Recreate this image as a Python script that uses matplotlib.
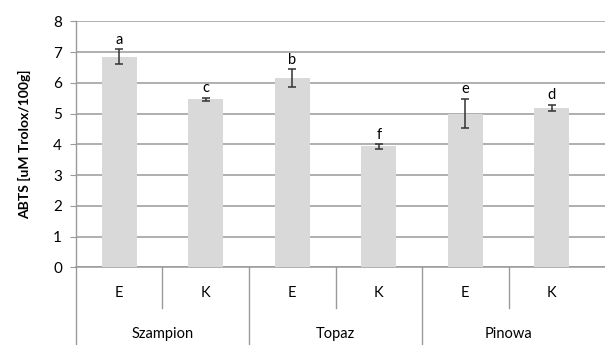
import matplotlib
matplotlib.use("Agg")
import matplotlib.pyplot as plt
import matplotlib.transforms as mtransforms

plt.rcParams['font.family'] = ['Lato', 'DejaVu Sans']

# dane
odmiany = ['Szampion', 'Topaz', 'Pinowa']
warianty = ['E', 'K', 'E', 'K', 'E', 'K']
wartosci = [6.85, 5.47, 6.15, 3.93, 5.00, 5.19]
bledy = [0.24, 0.05, 0.29, 0.08, 0.48, 0.10]
litery = ['a', 'c', 'b', 'f', 'e', 'd']

szary = '#9a9a9a'

fig = plt.figure(figsize=(6.05, 3.45), dpi=100)
ax = fig.add_axes([0.1256, 0.2252, 0.8744, 0.7131])

x = list(range(len(wartosci)))
ax.bar(x, wartosci, width=0.40, color='#d9d9d9', zorder=3)
ax.errorbar(x, wartosci, yerr=bledy, fmt='none', ecolor='#333333',
            elinewidth=1.1, capsize=3.2, capthick=1.1, zorder=4)

for xi, v, e, lit in zip(x, wartosci, bledy, litery):
    ax.text(xi, v + e + 0.08, lit, ha='center', va='bottom', fontsize=10.5)

ax.set_ylim(0, 8)
ax.set_yticks(range(0, 9))
ax.set_xlim(-0.5, 5.615)
ax.set_xticks([])
ax.yaxis.grid(True, color=szary, linewidth=1.1, zorder=0)
ax.set_axisbelow(True)

for s in ['top', 'right']:
    ax.spines[s].set_visible(False)
ax.spines['left'].set_color(szary)
ax.spines['bottom'].set_color(szary)
ax.spines['left'].set_linewidth(1.0)
ax.spines['bottom'].set_linewidth(1.1)
ax.tick_params(axis='y', length=4, color=szary, labelsize=11, pad=6)

ax.set_ylabel('ABTS [uM Trolox/100g]', fontsize=10, fontweight='bold', labelpad=16)

# oś kategorii dwupoziomowa
tr = mtransforms.blended_transform_factory(ax.transData, ax.transAxes)
dol = -0.318
for xi, w in zip(x, warianty):
    ax.text(xi, -0.105, w, transform=tr, ha='center', va='center', fontsize=10.5)
for i, nazwa in enumerate(odmiany):
    ax.text(2 * i + 0.5, -0.272, nazwa, transform=tr, ha='center', va='center', fontsize=10.5)

ax.plot([-0.5, -0.5], [0, dol], transform=tr, color=szary, lw=1.0, clip_on=False)
for xs in [0.5, 2.5, 4.5]:
    ax.plot([xs, xs], [0, -0.165], transform=tr, color=szary, lw=1.0, clip_on=False)
for xs in [1.5, 3.5]:
    ax.plot([xs, xs], [0, dol], transform=tr, color=szary, lw=1.0, clip_on=False)

fig.savefig('out.png', dpi=100)
